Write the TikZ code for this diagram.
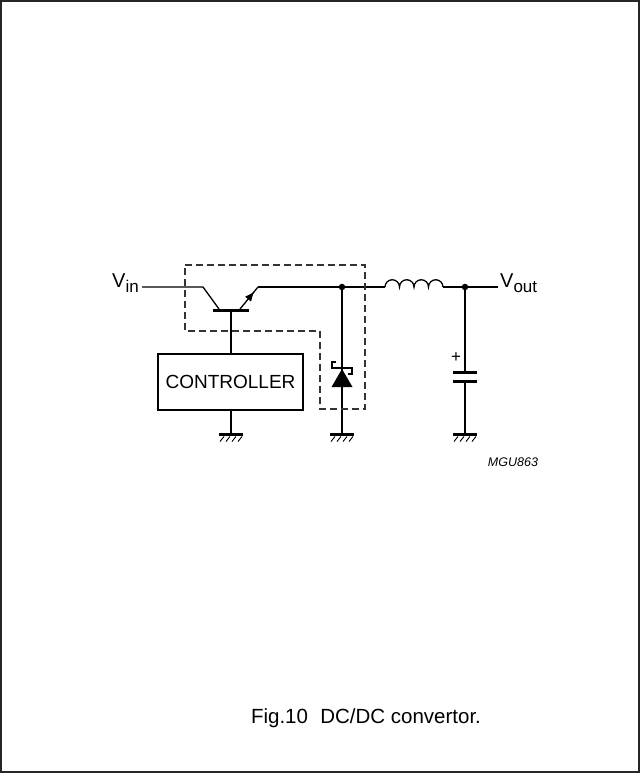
\documentclass[tikz,border=0pt]{standalone}
\usepackage{fontspec}
\setmainfont{Liberation Sans}
\usetikzlibrary{arrows.meta,calc}
\tikzset{
  wire/.style={line width=1.3pt, black},
  thick bar/.style={line width=3pt, black},
  dashbox/.style={line width=1.2pt, dash pattern=on 7pt off 4pt, black!80},
  dot/.style={circle, fill=black, inner sep=0pt, minimum size=6.5pt},
  lbl/.style={inner sep=0pt, font=\fontsize{20}{22}\selectfont},
  ctrl/.style={draw, line width=2pt, minimum width=145pt, minimum height=56pt, inner sep=0pt, font=\fontsize{19}{21}\selectfont},
}
\newcommand{\gnd}[1]{%
  \draw[thick bar] ($(#1)+(-12,0)$) -- ($(#1)+(12,0)$);
  \foreach \dx in {-7,-1,5,11} \draw[line width=0.9pt] ($(#1)+(\dx,2.5)$) -- ($(#1)+(\dx-4,7.5)$);
}
\begin{document}
\begin{tikzpicture}[x=1pt,y=-1pt]
\useasboundingbox (0,0) rectangle (640,774);
\draw[line width=1.6pt, black!85] (1,1) rectangle (639,772);

% coordinates
\coordinate (vinend) at (142,287);
\coordinate (cbend) at (203,287);
\coordinate (coll) at (219,309);
\coordinate (emit) at (240,309);
\coordinate (etop) at (258,287);
\coordinate (ebar) at (231,310);
\coordinate (j1) at (342,287);
\coordinate (l1) at (385,287);
\coordinate (l2) at (443,287);
\coordinate (j2) at (465,287);
\coordinate (voutend) at (498,287);
\coordinate (g1) at (231,434);
\coordinate (g2) at (342,434);
\coordinate (g3) at (465,434);
\coordinate (cp1) at (465,372);
\coordinate (cp2) at (465,381);
\coordinate (da) at (342,369);

% labels
\node[lbl, anchor=east] (vin) at (139,283) {V\raisebox{-5.5pt}{\fontsize{17}{18}\selectfont in}};
\node[lbl, anchor=west] (vout) at (500,283) {V\raisebox{-5.5pt}{\fontsize{17}{18}\selectfont out}};

% transistor
\draw[wire] (vinend) -- (cbend) -- (coll);
\draw[thick bar] (213,310) -- (249,310);
\draw[wire, -{Latex[length=10pt,width=8pt]}] (emit) -- ($(emit)!0.8!(etop)$);
\draw[wire] ($(emit)!0.7!(etop)$) -- (etop);

% main line
\draw[wire] (etop) -- (l1);
\draw[wire] (l1) arc[start angle=180, end angle=0, radius=7.25pt]
  arc[start angle=180, end angle=0, radius=7.25pt]
  arc[start angle=180, end angle=0, radius=7.25pt]
  arc[start angle=180, end angle=0, radius=7.25pt];
\draw[wire] (l2) -- (voutend);
\node[dot] (d1) at (j1) {};
\node[dot] (d2) at (j2) {};

% controller
\node[ctrl] (ctrl) at (230.5,382) {CONTROLLER};
\draw[wire] (ebar) -- (ctrl.north -| ebar);
\draw[wire] (ctrl.south -| g1) -- (g1);
\gnd{g1}

% diode
\draw[wire] (d1) -- (g2);
\fill (da) -- (331.5,387) -- (352.5,387) -- cycle;
\draw[line width=1.5pt] (336,362) -- (332,362) -- (332,368) -- (352,368) -- (352,374) -- (348,374);
\gnd{g2}

% dashed box
\draw[dashbox] (185,265) -- (365,265) -- (365,409) -- (320,409) -- (320,331) -- (185,331) -- cycle;

% capacitor
\draw[wire] (d2) -- (cp1);
\draw[thick bar] (453,372) -- (477,372);
\draw[thick bar] (453,381) -- (477,381);
\draw[wire] (cp2) -- (g3);
\gnd{g3}
\node[inner sep=0pt, font=\fontsize{17}{17}\selectfont] (plus) at (456,358) {+};

% tag
\node[inner sep=0pt, font=\fontsize{12.5}{14}\selectfont\itshape] (tag) at (513,462) {MGU863};

% caption
\node[inner sep=0pt, font=\fontsize{20.5}{24}\selectfont] (cap) at (366,718) {Fig.10\hspace{0.6em}DC/DC convertor.};
\end{tikzpicture}
\end{document}
